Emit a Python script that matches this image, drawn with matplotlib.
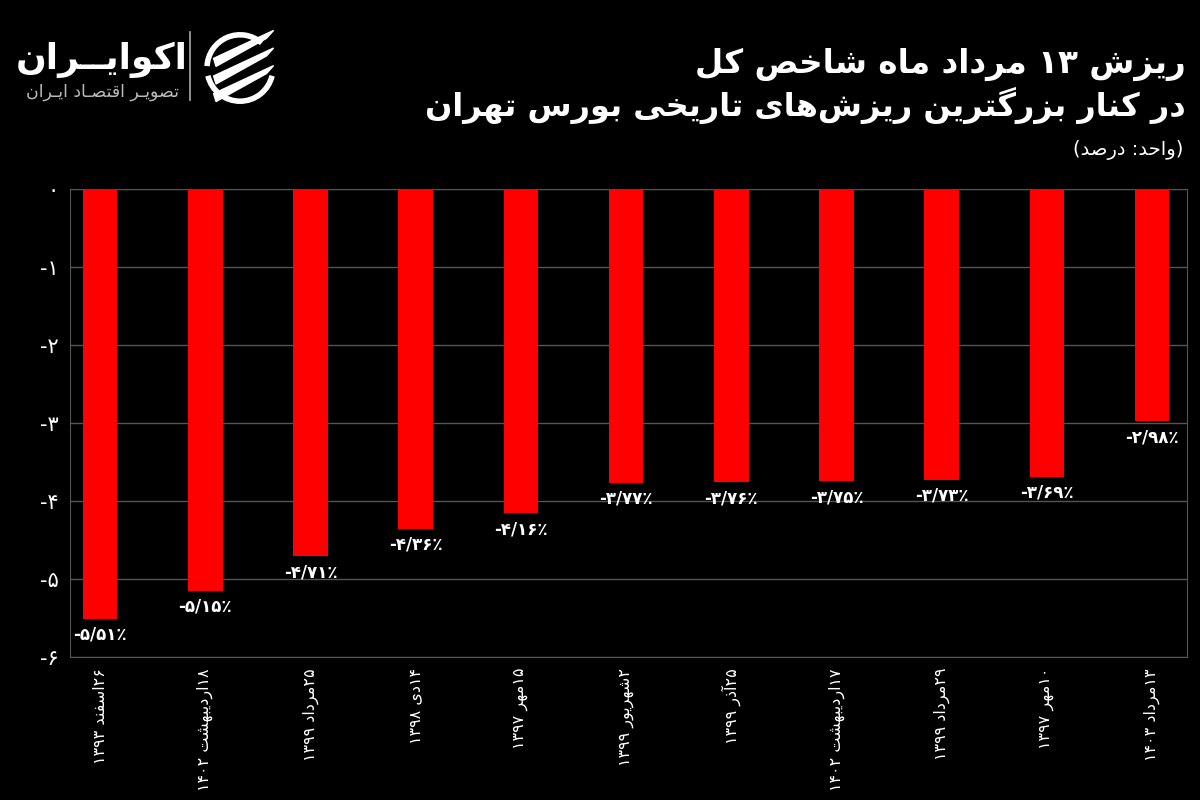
import matplotlib
matplotlib.use("Agg")
import matplotlib.pyplot as plt
from matplotlib.patches import Arc, Polygon
import numpy as np

# data
dates = ['۲۶اسفند ۱۳۹۳', '۱۸اردیبهشت ۱۴۰۲', '۲۵مرداد ۱۳۹۹', '۱۴دی ۱۳۹۸',
         '۱۵مهر ۱۳۹۷', '۲شهریور ۱۳۹۹', '۲۵آذر ۱۳۹۹', '۱۷اردیبهشت ۱۴۰۲',
         '۲۹مرداد ۱۳۹۹', '۱۰مهر ۱۳۹۷', '۱۳مرداد ۱۴۰۳']
drops = [-5.51, -5.15, -4.71, -4.36, -4.16, -3.77, -3.76, -3.75, -3.73, -3.69, -2.98]
yticks = [0, -1, -2, -3, -4, -5, -6]

title1 = 'ریزش ۱۳ مرداد ماه شاخص کل'
title2 = 'در کنار بزرگترین ریزش‌های تاریخی بورس تهران'
unit = '(واحد: درصد)'
brand = 'اکوایــران'
brand_sub = 'تصویـر اقتصـاد ایـران'

# --- minimal persian shaping (matplotlib has no text shaping) ---
FORMS = {
    'ا': ('\uFE8D', '\uFE8E'), 'آ': ('\uFE81', '\uFE82'), 'د': ('\uFEA9', '\uFEAA'),
    'ذ': ('\uFEAB', '\uFEAC'), 'ر': ('\uFEAD', '\uFEAE'), 'ز': ('\uFEAF', '\uFEB0'),
    'ژ': ('\uFB8A', '\uFB8B'), 'و': ('\uFEED', '\uFEEE'),
    'ب': ('\uFE8F', '\uFE90', '\uFE91', '\uFE92'), 'پ': ('\uFB56', '\uFB57', '\uFB58', '\uFB59'),
    'ت': ('\uFE95', '\uFE96', '\uFE97', '\uFE98'), 'ث': ('\uFE99', '\uFE9A', '\uFE9B', '\uFE9C'),
    'ج': ('\uFE9D', '\uFE9E', '\uFE9F', '\uFEA0'), 'چ': ('\uFB7A', '\uFB7B', '\uFB7C', '\uFB7D'),
    'ح': ('\uFEA1', '\uFEA2', '\uFEA3', '\uFEA4'), 'خ': ('\uFEA5', '\uFEA6', '\uFEA7', '\uFEA8'),
    'س': ('\uFEB1', '\uFEB2', '\uFEB3', '\uFEB4'), 'ش': ('\uFEB5', '\uFEB6', '\uFEB7', '\uFEB8'),
    'ص': ('\uFEB9', '\uFEBA', '\uFEBB', '\uFEBC'), 'ض': ('\uFEBD', '\uFEBE', '\uFEBF', '\uFEC0'),
    'ط': ('\uFEC1', '\uFEC2', '\uFEC3', '\uFEC4'), 'ظ': ('\uFEC5', '\uFEC6', '\uFEC7', '\uFEC8'),
    'ع': ('\uFEC9', '\uFECA', '\uFECB', '\uFECC'), 'غ': ('\uFECD', '\uFECE', '\uFECF', '\uFED0'),
    'ف': ('\uFED1', '\uFED2', '\uFED3', '\uFED4'), 'ق': ('\uFED5', '\uFED6', '\uFED7', '\uFED8'),
    'ک': ('\uFB8E', '\uFB8F', '\uFB90', '\uFB91'), 'گ': ('\uFB92', '\uFB93', '\uFB94', '\uFB95'),
    'ل': ('\uFEDD', '\uFEDE', '\uFEDF', '\uFEE0'), 'م': ('\uFEE1', '\uFEE2', '\uFEE3', '\uFEE4'),
    'ن': ('\uFEE5', '\uFEE6', '\uFEE7', '\uFEE8'), 'ه': ('\uFEE9', '\uFEEA', '\uFEEB', '\uFEEC'),
    'ی': ('\uFBFC', '\uFBFD', '\uFBFE', '\uFBFF'), 'ـ': ('ـ', 'ـ', 'ـ', 'ـ'),
}
LTR = set('۰۱۲۳۴۵۶۷۸۹0123456789/٪%.')
MIRROR = {'(': ')', ')': '('}


def fa(text):
    out = []
    for i, c in enumerate(text):
        if c not in FORMS:
            out.append(c)
            continue
        prev = text[i - 1] if i > 0 else ''
        nxt = text[i + 1] if i + 1 < len(text) else ''
        jp = prev in FORMS and len(FORMS[prev]) == 4
        jn = len(FORMS[c]) == 4 and nxt in FORMS
        f = FORMS[c]
        if jp and jn:
            out.append(f[3])
        elif jp:
            out.append(f[1])
        elif jn:
            out.append(f[2])
        else:
            out.append(f[0])
    s = ''.join(out).replace('\u200c', '')
    s = [MIRROR.get(c, c) for c in s[::-1]]
    # put digit runs back in reading order
    res, run = [], []
    for c in s:
        if c in LTR:
            run.append(c)
        else:
            res.extend(run[::-1])
            run = []
            res.append(c)
    res.extend(run[::-1])
    return ''.join(res)


def fa_num(v, dec=0):
    s = f'{v:.{dec}f}'.replace('.', '/')
    return s.translate(str.maketrans('0123456789', '۰۱۲۳۴۵۶۷۸۹'))


plt.rcParams['font.family'] = ['DejaVu Sans']

fig = plt.figure(figsize=(12, 8), dpi=100, facecolor='black')
ax = fig.add_axes([0.058, 0.179, 0.931, 0.585], facecolor='black')

x = np.arange(len(drops))
ax.bar(x, drops, width=0.33, color='#ff0000', zorder=3)
for xi, v in zip(x, drops):
    ax.annotate(fa_num(v, 2) + '٪', (xi, v), xytext=(0, -5), textcoords='offset points',
                ha='center', va='top', color='white', fontsize=12, fontweight='bold')

ax.set_ylim(-6, 0)
ax.set_xlim(-0.29, 10.33)
ax.set_yticks(yticks)
ax.set_yticklabels([fa_num(t) for t in yticks], color='white', fontsize=15)
ax.set_xticks(x)
ax.set_xticklabels([fa(d) for d in dates], rotation=90, color='white', fontsize=11.5,
                   va='top')
ax.tick_params(length=0, pad=8)
ax.grid(axis='y', color='#555555', lw=1, zorder=0)
for sp in ax.spines.values():
    sp.set_color('#555555')

fig.text(0.988, 0.92, fa(title1), ha='right', va='center', color='white', fontsize=23.5, fontweight='bold')
fig.text(0.988, 0.868, fa(title2), ha='right', va='center', color='white', fontsize=23, fontweight='bold')
fig.text(0.986, 0.812, fa(unit), ha='right', va='center', color='white', fontsize=14)

# logo
fig.text(0.085, 0.925, fa(brand), ha='center', va='center', color='white', fontsize=26, fontweight='bold')
fig.text(0.085, 0.885, fa(brand_sub), ha='center', va='center', color='#bbbbbb', fontsize=12.5)
fig.add_artist(plt.Line2D([0.158, 0.158], [0.875, 0.96], color='#aaaaaa', lw=1.2))
fig.add_artist(Arc((0.2, 0.915), 0.055, 0.083, theta1=200, theta2=340, color='white', lw=4))
fig.add_artist(Arc((0.2, 0.915), 0.055, 0.083, theta1=60, theta2=175, color='white', lw=4))
for dy in [0.022, 0.0, -0.022]:
    fig.add_artist(Polygon([(0.178, 0.905 + dy), (0.228, 0.94 + dy), (0.222, 0.93 + dy),
                            (0.18, 0.895 + dy)], closed=True, color='white'))

fig.savefig('out.png', dpi=100, facecolor='black')
